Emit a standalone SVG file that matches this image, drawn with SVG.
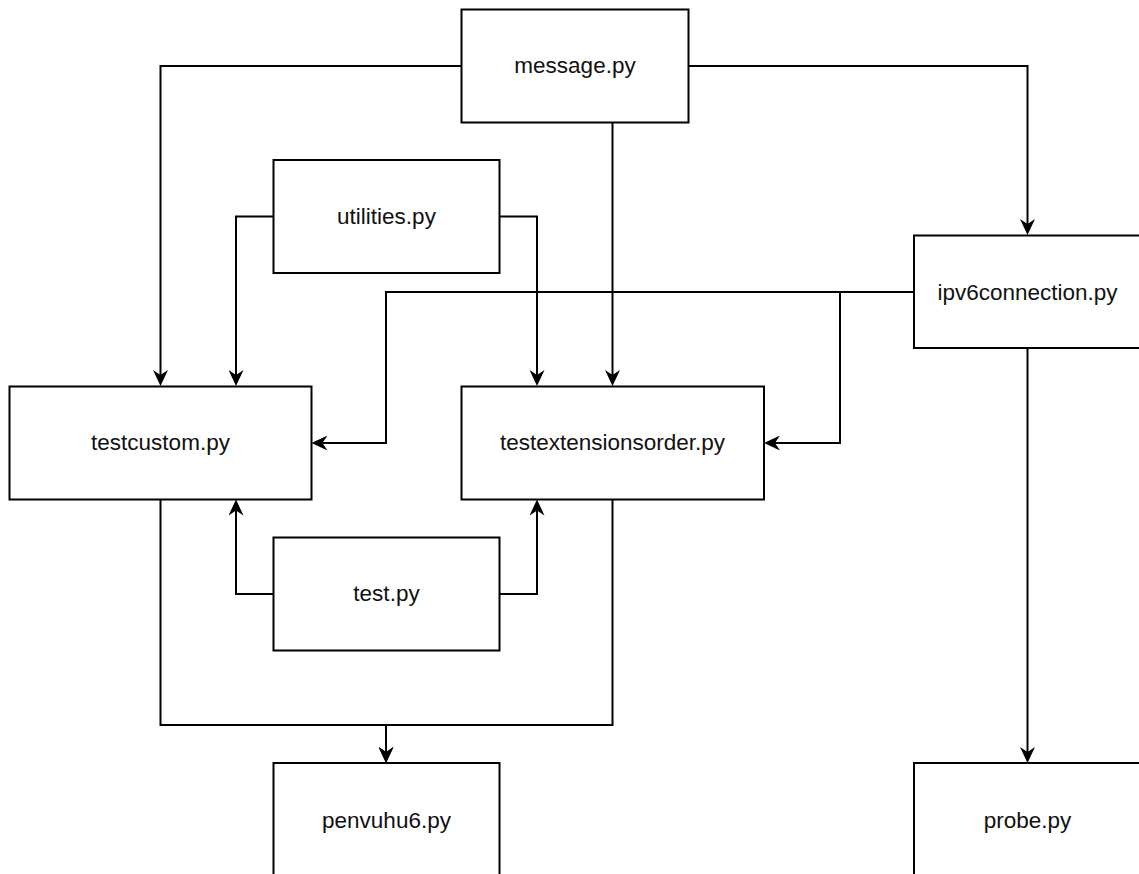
<svg xmlns="http://www.w3.org/2000/svg" width="1139" height="874" viewBox="0 0 1139 874">
  <style>
    .box { fill: #ffffff; stroke: #000000; stroke-width: 2; }
    .label { font-family: "Liberation Sans", Arial, sans-serif; font-size: 22.5px; fill: #111111; text-anchor: middle; }
    .edge { fill: none; stroke: #000000; stroke-width: 2; marker-end: url(#arrow); }
  </style>
  <defs>
    <marker id="arrow" viewBox="0 0 16 15" markerWidth="16" markerHeight="15" refX="5" refY="7.5" orient="auto" markerUnits="userSpaceOnUse">
      <path d="M0,0 L16,7.5 L0,15 L5,7.5 Z" fill="#000000"/>
    </marker>
  </defs>
  <rect width="1139" height="874" fill="#ffffff"/>

  <!-- connectors -->
  <g id="connectors">
    <!-- message.py -->
    <path class="edge" d="M461.5,66 H160.5 V375"/>
    <path class="edge" d="M688.5,66 H1027.5 V224"/>
    <path class="edge" d="M612.5,122.5 V375"/>
    <!-- utilities.py -->
    <path class="edge" d="M273.5,216.5 H236 V375"/>
    <path class="edge" d="M499.5,216.5 H537 V375"/>
    <!-- ipv6connection.py -->
    <path class="edge" d="M914,292 H386 V443 H322.5"/>
    <path class="edge" d="M914,292 H840 V443 H775"/>
    <path class="edge" d="M1027.5,348 V752"/>
    <!-- test.py -->
    <path class="edge" d="M273.5,594 H236 V510.5"/>
    <path class="edge" d="M499.5,594 H537 V510.5"/>
    <!-- into penvuhu6.py -->
    <path class="edge" d="M160.5,499.5 V725 H386 V752"/>
    <path class="edge" d="M612.5,499.5 V725 H386 V752"/>
  </g>

  <g id="message">
    <rect class="box" x="461.5" y="9.5" width="227" height="113"/>
    <text class="label" x="575" y="73">message.py</text>
  </g>
  <g id="utilities">
    <rect class="box" x="273.5" y="160" width="226" height="113"/>
    <text class="label" x="386.5" y="224">utilities.py</text>
  </g>
  <g id="ipv6connection">
    <rect class="box" x="914" y="235.5" width="227" height="112.5"/>
    <text class="label" x="1027.5" y="300">ipv6connection.py</text>
  </g>
  <g id="testcustom">
    <rect class="box" x="9.5" y="386.5" width="302" height="113"/>
    <text class="label" x="160.5" y="450">testcustom.py</text>
  </g>
  <g id="testextensionsorder">
    <rect class="box" x="461.5" y="386.5" width="302.5" height="113"/>
    <text class="label" x="612.5" y="450">testextensionsorder.py</text>
  </g>
  <g id="test">
    <rect class="box" x="273.5" y="537.5" width="226" height="113"/>
    <text class="label" x="386.5" y="601">test.py</text>
  </g>
  <g id="penvuhu6">
    <rect class="box" x="273.5" y="763" width="226" height="113"/>
    <text class="label" x="386.5" y="828">penvuhu6.py</text>
  </g>
  <g id="probe">
    <rect class="box" x="914" y="763" width="227" height="113"/>
    <text class="label" x="1027.5" y="828">probe.py</text>
  </g>
</svg>
